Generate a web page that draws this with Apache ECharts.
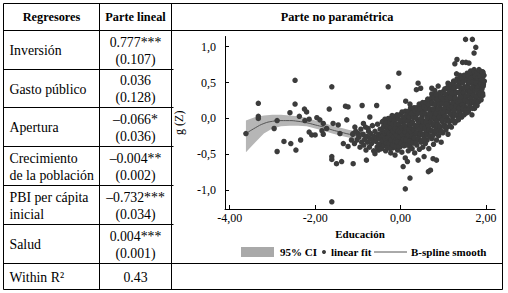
<!DOCTYPE html>
<html><head><meta charset="utf-8">
<script src="https://cdn.jsdelivr.net/npm/echarts@6/dist/echarts.min.js"></script>
<style>html,body{margin:0;padding:0;background:#fff}#c{width:508px;height:293px}</style>
</head><body><div id="c"></div>
<script>
// ---------- table content ----------
const headers = ['Regresores', 'Parte lineal', 'Parte no paramétrica'];
const regressors = [['Inversión'], ['Gasto público'], ['Apertura'], ['Crecimiento', 'de la población'], ['PBI per cápita', 'inicial'], ['Salud'], ['Within R²']];
const coefs = ['0.777***', '0.036', '–0.066*', '–0.004**', '–0.732***', '0.004***', '0.43'];
const stdErrs = ['(0.107)', '(0.128)', '(0.036)', '(0.002)', '(0.034)', '(0.001)', null];

// ---------- chart content ----------
const xTickValues = [-4, -2, 0, 2];
const xTickLabels = ['-4,00', '-2,00', '0,00', '2,00'];
const yTickValues = [-1, -0.5, 0, 0.5, 1];
const yTickLabels = ['-1,0', '-0,5', '0,0', '0,5', '1,0'];
const xAxisTitle = 'Educación';
const yAxisTitle = 'g (Z)';
const legendLabels = ['95% CI', 'linear fit', 'B-spline smooth'];

const splineX = [-3.62,-3.4,-3.2,-3.0,-2.8,-2.6,-2.4,-2.2,-2.0,-1.8,-1.6,-1.4,-1.2,-1.0,-0.8,-0.6,-0.4,-0.2,0,0.2,0.4,0.6,0.8,1.0,1.2,1.4,1.6,1.8,1.95];
const splineY = [-0.21,-0.13,-0.07,-0.04,-0.03,-0.03,-0.04,-0.06,-0.09,-0.12,-0.16,-0.19,-0.22,-0.24,-0.25,-0.25,-0.23,-0.2,-0.16,-0.11,-0.05,0.02,0.09,0.16,0.24,0.32,0.41,0.5,0.57];

const ciX = [-3.62,-3.4,-3.2,-3.0,-2.8,-2.6,-2.4,-2.2,-2.0,-1.8,-1.6,-1.4,-1.2,-1.0,-0.8];
const ciLower = [-0.47,-0.33,-0.21,-0.14,-0.11,-0.10,-0.10,-0.11,-0.14,-0.17,-0.21,-0.24,-0.27,-0.30,-0.31];
const ciUpper = [-0.03,0.02,0.04,0.05,0.05,0.04,0.03,0.01,-0.03,-0.06,-0.10,-0.13,-0.16,-0.18,-0.19];

const outlierPoints = [
[1.52,1.10],[1.68,1.10],[1.76,0.99],[1.72,0.91],[1.32,0.82],[1.27,0.76],[1.45,0.78],[1.53,0.78],[1.60,0.77],
[-2.47,0.53],[-3.33,0.21],[-2.47,0.20],[-2.25,0.13],[-1.67,0.13],[-1.29,0.17],[-1.23,0.16],[-0.90,0.18],[-0.56,0.18],
[-1.61,0.44],[0.12,0.24],[0.22,0.20],[-0.04,0.63],[0.41,0.49],[0.47,0.42],[0.37,0.40],[0.73,0.42],[0.80,0.39],[0.88,0.45],
[0.73,0.34],[1.11,0.49],[1.15,0.43],[1.31,0.62],[1.39,0.60],[-0.29,0.44],
[-3.62,-0.21],[-3.33,0.03],[-3.33,0.00],[-2.89,-0.03],[-2.96,-0.14],[-2.89,-0.46],[-2.73,-0.32],[-2.59,0.08],[-2.57,-0.35],
[-2.45,-0.44],[-2.37,0.03],[-2.34,-0.30],[-2.20,0.09],[-2.24,-0.03],[-2.14,-0.01],[-2.14,-0.19],[-2.08,-0.23],[-2.00,-0.23],
[-1.96,0.01],[-1.89,-0.02],[-1.81,-0.07],[-1.84,-0.17],[-1.81,-0.22],[-1.73,-0.14],[-1.61,-0.53],[-1.61,-0.57],[-1.61,-1.16],
[-1.50,-0.63],[-1.38,-0.60],[-1.11,-0.63],[-0.80,-0.58],[0.06,-0.67],[0.16,-0.60],[0.22,-0.83],[0.11,-0.98],[0.41,-0.58],
[0.55,-0.53],[0.65,-0.74],[0.70,-0.72],[0.76,-0.56],[0.84,-0.58],
[-1.34,-0.35],[-1.23,-0.39],[-1.15,-0.30],[-1.11,-0.21],[-1.07,-0.12],[-0.99,-0.21],[-0.60,-0.49],[-0.52,-0.44],[-0.41,-0.37],
[-1.46,-0.09],[-1.42,-0.21],[-1.26,-0.02],[-1.58,-0.07],[-0.87,-0.07],[-0.76,-0.14],[-0.72,0.02]
];

const clusterPoints = [
[-1.12,-0.22],[-1.08,-0.35],[-1.05,-0.18],[-1.02,-0.30],
[-0.98,-0.26],[-0.95,-0.40],[-0.93,-0.15],[-0.91,-0.33],
[-0.88,-0.22],[-0.86,-0.37],[-0.84,-0.29],[-0.82,-0.12],[-0.81,-0.44],
[-0.79,-0.25],[-0.77,-0.33],[-0.75,-0.18],[-0.73,-0.40],[-0.72,-0.28],
[-0.70,-0.21],[-0.68,-0.35],[-0.66,-0.10],[-0.65,-0.30],[-0.63,-0.45],[-0.62,-0.25],
[-0.60,-0.18],[-0.58,-0.32],[-0.57,-0.27],[-0.55,-0.40],[-0.54,-0.08],[-0.52,-0.22],[-0.51,-0.36],
[-0.50,-0.28],[-0.48,-0.15],[-0.47,-0.42],[-0.46,-0.24],[-0.44,-0.33],[-0.43,-0.05],[-0.42,-0.19],[-0.41,-0.38],[-0.40,-0.29],
[-0.39,-0.12],[-0.38,-0.34],[-0.36,-0.22],[-0.35,-0.45],[-0.34,-0.27],[-0.32,-0.02],[-0.31,-0.17],[-0.30,-0.39],[-0.29,-0.30],[-0.28,-0.09],
[-0.27,-0.24],[-0.26,-0.36],[-0.24,-0.14],[-0.23,-0.48],[-0.22,-0.20],[-0.21,-0.31],[-0.20,0.04],[-0.19,-0.26],[-0.18,-0.41],[-0.17,-0.07],
[-0.16,-0.18],[-0.15,-0.33],[-0.14,-0.23],[-0.13,-0.51],[-0.12,-0.11],[-0.11,-0.37],[-0.10,-0.28],[-0.09,0.01],[-0.08,-0.16],[-0.07,-0.44],
[-0.06,-0.25],[-0.05,-0.08],[-0.04,-0.34],[-0.03,-0.19],[-0.02,-0.40],[-0.01,-0.13],[0.00,-0.29],[0.01,0.06],[0.02,-0.22],[0.03,-0.47],
[0.04,-0.15],[0.05,-0.31],[0.06,-0.05],[0.07,-0.26],[0.08,-0.38],[0.09,-0.10],[0.10,-0.20],[0.11,-0.55],[0.12,-0.33],[0.13,0.03],[0.14,-0.24],
[0.15,-0.12],[0.16,-0.36],[0.17,-0.18],[0.18,-0.45],[0.19,-0.02],[0.20,-0.28],[0.21,-0.08],[0.22,-0.39],[0.23,-0.21],[0.24,0.10],[0.25,-0.31],
[0.26,-0.15],[0.27,-0.42],[0.28,-0.05],[0.29,-0.25],[0.30,-0.34],[0.31,0.05],[0.32,-0.18],[0.33,-0.48],[0.34,-0.10],[0.35,-0.29],[0.36,0.14],
[0.37,-0.21],[0.38,-0.37],[0.39,-0.02],[0.40,-0.13],[0.41,-0.30],[0.42,0.08],[0.43,-0.24],[0.44,-0.43],[0.45,-0.07],[0.46,-0.17],[0.47,0.18],
[0.48,-0.33],[0.49,-0.11],[0.50,0.02],[0.51,-0.22],[0.52,-0.40],[0.53,0.11],[0.54,-0.04],[0.55,-0.27],[0.56,-0.15],[0.57,0.22],[0.58,-0.35],
[0.59,-0.08],[0.60,0.05],[0.61,-0.19],[0.62,-0.30],[0.63,0.15],[0.64,-0.01],[0.65,-0.12],[0.66,-0.42],[0.67,0.25],[0.68,-0.24],[0.69,0.08],
[0.70,-0.05],[0.71,-0.17],[0.72,0.12],[0.73,-0.28],[0.74,0.02],[0.75,0.20],[0.76,-0.10],[0.77,-0.36],[0.78,0.07],[0.79,-0.21],[0.80,0.28],
[0.81,-0.02],[0.82,0.14],[0.83,-0.14],[0.84,-0.30],[0.85,0.05],[0.86,0.23],[0.87,-0.08],[0.88,0.10],[0.89,-0.24],[0.90,0.32],[0.91,0.00],
[0.92,0.17],[0.93,-0.12],[0.94,0.06],[0.95,-0.33],[0.96,0.26],[0.97,-0.04],[0.98,0.12],[0.99,-0.20],[1.00,0.36],[1.01,0.03],[1.02,0.21],
[1.03,-0.09],[1.04,0.09],[1.05,0.30],[1.06,-0.16],[1.07,0.15],[1.08,0.42],[1.09,0.01],[1.10,0.24],[1.11,-0.22],[1.12,0.11],[1.13,0.35],
[1.14,-0.03],[1.15,0.19],[1.16,0.47],[1.17,0.06],[1.18,0.28],[1.19,-0.12],[1.20,0.14],[1.21,0.39],[1.22,0.02],[1.23,0.23],[1.24,0.52],
[1.25,0.10],[1.26,0.31],[1.27,-0.06],[1.28,0.18],[1.29,0.44],[1.30,0.05],[1.31,0.26],[1.32,0.55],[1.33,0.13],[1.34,0.36],[1.35,-0.02],
[1.36,0.21],[1.37,0.48],[1.38,0.09],[1.39,0.30],[1.40,0.58],[1.41,0.16],[1.42,0.40],[1.43,0.02],[1.44,0.25],[1.45,0.51],[1.46,0.12],
[1.47,0.34],[1.48,0.60],[1.49,0.20],[1.50,0.44],[1.51,0.07],[1.52,0.28],[1.53,0.54],[1.54,0.15],[1.55,0.38],[1.56,0.63],[1.57,0.24],
[1.58,0.47],[1.59,0.10],[1.60,0.32],[1.61,0.57],[1.62,0.19],[1.63,0.41],[1.64,0.66],[1.65,0.27],[1.66,0.50],[1.67,0.05],[1.68,0.36],
[1.69,0.60],[1.70,0.22],[1.71,0.45],[1.72,0.68],[1.73,0.14],[1.74,0.31],[1.75,0.54],[1.76,0.26],[1.77,0.40],[1.78,0.64],[1.79,0.18],
[1.80,0.49],[1.81,0.33],[1.82,0.58],[1.83,0.24],[1.84,0.42],[1.85,0.66],[1.86,0.30],[1.87,0.52],[1.88,0.38],[1.89,0.62],[1.90,0.45],
[1.91,0.56],[1.92,0.35],[1.93,0.64],[1.94,0.48],[1.95,0.60],[1.96,0.52]
];

const clusterPoints2 = [
[-0.445,-0.42],[-0.435,-0.15],[-0.425,-0.31],[-0.415,-0.04],[-0.405,-0.24],[-0.395,-0.11],[-0.385,-0.37],[-0.375,-0.20],[-0.365,-0.01],[-0.355,-0.28],
[-0.345,-0.07],[-0.335,-0.34],[-0.325,-0.18],[-0.315,-0.41],[-0.305,-0.12],[-0.295,-0.26],[-0.285,0.00],[-0.275,-0.35],[-0.265,-0.21],[-0.255,-0.05],
[-0.245,-0.42],[-0.235,-0.13],[-0.225,-0.30],[-0.215,-0.01],[-0.205,-0.22],[-0.195,-0.08],[-0.185,-0.37],[-0.175,-0.18],[-0.165,0.03],[-0.155,-0.26],
[-0.145,-0.03],[-0.135,-0.32],[-0.125,-0.14],[-0.115,-0.39],[-0.105,-0.08],[-0.095,-0.23],[-0.085,0.05],[-0.075,-0.33],[-0.065,-0.18],[-0.055,-0.01],
[-0.045,-0.39],[-0.035,-0.08],[-0.025,-0.26],[-0.015,0.05],[-0.005,-0.19],[0.005,-0.03],[0.015,-0.34],[0.025,-0.13],[0.035,0.09],[0.045,-0.23],
[0.055,0.02],[0.065,-0.29],[0.075,-0.10],[0.085,-0.37],[0.095,-0.03],[0.105,-0.19],[0.115,0.10],[0.125,-0.30],[0.135,-0.14],[0.145,0.05],
[0.155,-0.37],[0.165,-0.04],[0.175,-0.23],[0.185,0.10],[0.195,-0.15],[0.205,0.02],[0.215,-0.32],[0.225,-0.09],[0.235,0.15],[0.245,-0.19],
[0.255,0.07],[0.265,-0.25],[0.275,-0.06],[0.285,-0.34],[0.295,0.01],[0.305,-0.16],[0.315,0.15],[0.325,-0.27],[0.335,-0.10],[0.345,0.10],
[0.355,-0.34],[0.365,0.01],[0.375,-0.20],[0.385,0.15],[0.395,-0.11],[0.405,0.07],[0.415,-0.28],[0.425,-0.05],[0.435,0.20],[0.445,-0.15],
[0.455,0.13],[0.465,-0.22],[0.475,-0.01],[0.485,-0.31],[0.495,0.07],[0.505,-0.11],[0.515,0.22],[0.525,-0.23],[0.535,-0.05],[0.545,0.16],
[0.555,-0.29],[0.565,0.07],[0.575,-0.14],[0.585,0.22],[0.595,-0.05],[0.605,0.13],[0.615,-0.23],[0.625,0.01],[0.635,0.27],[0.645,-0.10],
[0.655,0.19],[0.665,-0.16],[0.675,0.06],[0.685,-0.25],[0.695,0.13],[0.705,-0.05],[0.715,0.28],[0.725,-0.17],[0.735,0.01],[0.745,0.22],
[0.755,-0.24],[0.765,0.13],[0.775,-0.08],[0.785,0.29],[0.795,0.01],[0.805,0.20],[0.815,-0.18],[0.825,0.07],[0.835,0.33],[0.845,-0.04],
[0.855,0.27],[0.865,-0.09],[0.875,0.13],[0.885,-0.18],[0.895,0.20],[0.905,0.02],[0.915,0.36],[0.925,-0.11],[0.935,0.08],[0.945,0.30],
[0.955,-0.18],[0.965,0.21],[0.975,-0.02],[0.985,0.37],[0.995,0.08],[1.005,0.27],[1.015,-0.11],[1.025,0.14],[1.035,0.41],[1.045,0.03],
[1.055,0.34],[1.065,-0.03],[1.075,0.20],[1.085,-0.12],[1.095,0.28],[1.105,0.09],[1.115,0.44],[1.125,-0.04],[1.135,0.15],[1.145,0.37],
[1.155,-0.10],[1.165,0.29],[1.175,0.06],[1.185,0.45],[1.195,0.16],[1.205,0.35],[1.215,-0.03],[1.225,0.22],[1.235,0.49],[1.245,0.11],
[1.255,0.42],[1.265,0.05],[1.275,0.28],[1.285,-0.04],[1.295,0.36],[1.305,0.17],[1.315,0.52],[1.325,0.04],[1.335,0.23],[1.345,0.45],
[1.355,-0.01],[1.365,0.36],[1.375,0.15],[1.385,0.52],[1.395,0.24],[1.405,0.43],[1.415,0.05],[1.425,0.30],[1.435,0.56],[1.445,0.19],
[1.455,0.50],[1.465,0.14],[1.475,0.36],[1.485,0.05],[1.495,0.43],[1.505,0.25],[1.515,0.59],[1.525,0.12],[1.535,0.31],[1.545,0.53],
[1.555,0.08],[1.565,0.44],[1.575,0.23],[1.585,0.59],[1.595,0.32],[1.605,0.50],[1.615,0.14],[1.625,0.38],[1.635,0.64],[1.645,0.28],
[1.655,0.56],[1.665,0.23],[1.675,0.43],[1.685,0.14],[1.695,0.51],[1.705,0.33],[1.715,0.65],[1.725,0.22],[1.735,0.39],[1.745,0.59],
[1.755,0.18],[1.765,0.50],[1.775,0.31],[1.785,0.64],[1.795,0.39],[1.805,0.56],[1.815,0.23],[1.825,0.45],[1.835,0.68],[1.845,0.35],
[1.855,0.58],[1.865,0.33],[1.875,0.48],[1.885,0.26],[1.895,0.54],[1.905,0.41],[1.915,0.65],[1.925,0.32],[1.935,0.45],[1.945,0.60]
];

// ---------- layout ----------
const SERIF = '"Liberation Serif", "Times New Roman", serif';
const colX = [3.5, 99.5, 171.5, 502.5];
const rowY = [3.5, 30.5, 69.5, 107.5, 146.5, 185.5, 224.5, 263.5, 289.5];

const graphics = [];
function hline(x1, x2, y) { graphics.push({ type: 'line', silent: true, z: 100, shape: { x1: x1, y1: y, x2: x2, y2: y }, style: { stroke: '#000', lineWidth: 1 } }); }
function vline(x, y1, y2) { graphics.push({ type: 'line', silent: true, z: 100, shape: { x1: x, y1: y1, x2: x, y2: y2 }, style: { stroke: '#000', lineWidth: 1 } }); }
function txt(t, x, y, font, align) { graphics.push({ type: 'text', silent: true, z: 100, style: { text: t, x: x, y: y, font: font, fill: '#000', textAlign: align, textVerticalAlign: 'middle', verticalAlign: 'middle' } }); }

hline(colX[0], colX[3], rowY[0]);
hline(colX[0], colX[3], rowY[1]);
hline(colX[0], colX[3], rowY[7]);
hline(colX[0], colX[3], rowY[8]);
for (let i = 2; i <= 6; i++) hline(colX[0], colX[2] + 2, rowY[i]);
for (let c = 0; c < 4; c++) vline(colX[c], rowY[0], rowY[8]);

const headFont = 'bold 12.3px ' + SERIF;
const bodyFont = '13.8px ' + SERIF;
txt(headers[0], (colX[0] + colX[1]) / 2, (rowY[0] + rowY[1]) / 2, headFont, 'center');
txt(headers[1], (colX[1] + colX[2]) / 2, (rowY[0] + rowY[1]) / 2, headFont, 'center');
txt(headers[2], (colX[2] + colX[3]) / 2, (rowY[0] + rowY[1]) / 2, headFont, 'center');

for (let r = 0; r < regressors.length; r++) {
  const cy = (rowY[r + 1] + rowY[r + 2]) / 2 + 0.5;
  const lab = regressors[r];
  if (lab.length === 1) txt(lab[0], 9.5, cy, bodyFont, 'left');
  else { txt(lab[0], 9.5, cy - 8.5, bodyFont, 'left'); txt(lab[1], 9.5, cy + 8.5, bodyFont, 'left'); }
  const cx = (colX[1] + colX[2]) / 2;
  if (stdErrs[r]) { txt(coefs[r], cx, cy - 8.5, bodyFont, 'center'); txt(stdErrs[r], cx, cy + 8.5, bodyFont, 'center'); }
  else txt(coefs[r], cx, cy, bodyFont, 'center');
}

// legend
const legFont = 'bold 11px ' + SERIF;
graphics.push({ type: 'rect', silent: true, shape: { x: 241, y: 247, width: 33, height: 10 }, style: { fill: '#a9a9a9' } });
txt(legendLabels[0], 280, 251.5, legFont, 'left');
graphics.push({ type: 'circle', silent: true, shape: { cx: 324, cy: 252, r: 2 }, style: { fill: '#3c3c3c' } });
txt(legendLabels[1], 331, 251.5, legFont, 'left');
graphics.push({ type: 'line', silent: true, shape: { x1: 374, y1: 252, x2: 407, y2: 252 }, style: { stroke: '#555', lineWidth: 1 } });
txt(legendLabels[2], 411, 251.5, legFont, 'left');

function fmt(vals, labels) {
  return function (v) { for (let i = 0; i < vals.length; i++) if (Math.abs(vals[i] - v) < 1e-9) return labels[i]; return ''; };
}

const chart = echarts.init(document.getElementById('c'), null, { renderer: 'svg' });
chart.setOption({
  animation: false,
  backgroundColor: '#fff',
  grid: { left: 225, right: 13, top: 36.5, bottom: 84, containLabel: false },
  xAxis: {
    type: 'value', min: -4.11, max: 2.21,
    name: xAxisTitle, nameLocation: 'middle', nameGap: 17,
    nameTextStyle: { fontFamily: SERIF, fontSize: 11, fontWeight: 'bold', color: '#000' },
    axisLine: { show: true, onZero: false, lineStyle: { color: '#000', width: 1 } },
    axisTick: { show: true, inside: true, length: 4, customValues: xTickValues, lineStyle: { color: '#000' } },
    axisLabel: { customValues: xTickValues, formatter: fmt(xTickValues, xTickLabels), fontFamily: SERIF, fontSize: 12, color: '#000', margin: 3 },
    splitLine: { show: false }
  },
  yAxis: {
    type: 'value', min: -1.26, max: 1.14,
    name: yAxisTitle, nameLocation: 'middle', nameGap: 40,
    nameTextStyle: { fontFamily: SERIF, fontSize: 12, color: '#000' },
    axisLine: { show: true, onZero: false, lineStyle: { color: '#000', width: 1 } },
    axisTick: { show: true, inside: true, length: 4, customValues: yTickValues, lineStyle: { color: '#000' } },
    axisLabel: { customValues: yTickValues, formatter: fmt(yTickValues, yTickLabels), fontFamily: SERIF, fontSize: 12, color: '#000', margin: 9 },
    splitLine: { show: false }
  },
  series: [
    {
      type: 'custom', name: legendLabels[0], z: 1,
      data: ciX.map(function (x, i) { return [x, ciLower[i], ciUpper[i]]; }),
      encode: { x: 0, y: [1, 2] },
      renderItem: function (params, api) {
        if (params.dataIndex !== 0) return null;
        const pts = [];
        for (let i = 0; i < ciX.length; i++) pts.push(api.coord([ciX[i], ciUpper[i]]));
        for (let i = ciX.length - 1; i >= 0; i--) pts.push(api.coord([ciX[i], ciLower[i]]));
        return { type: 'polygon', shape: { points: pts }, style: { fill: '#b6b6b6' } };
      }
    },
    {
      type: 'line', name: legendLabels[2], z: 2, symbol: 'none', smooth: true,
      data: splineX.map(function (x, i) { return [x, splineY[i]]; }),
      lineStyle: { color: '#555', width: 1 }
    },
    {
      type: 'scatter', name: legendLabels[1], z: 3, symbolSize: 5.5,
      data: outlierPoints.concat(clusterPoints, clusterPoints2),
      itemStyle: { color: '#3c3c3c', opacity: 1 }
    }
  ],
  graphic: graphics
});
</script></body></html>
